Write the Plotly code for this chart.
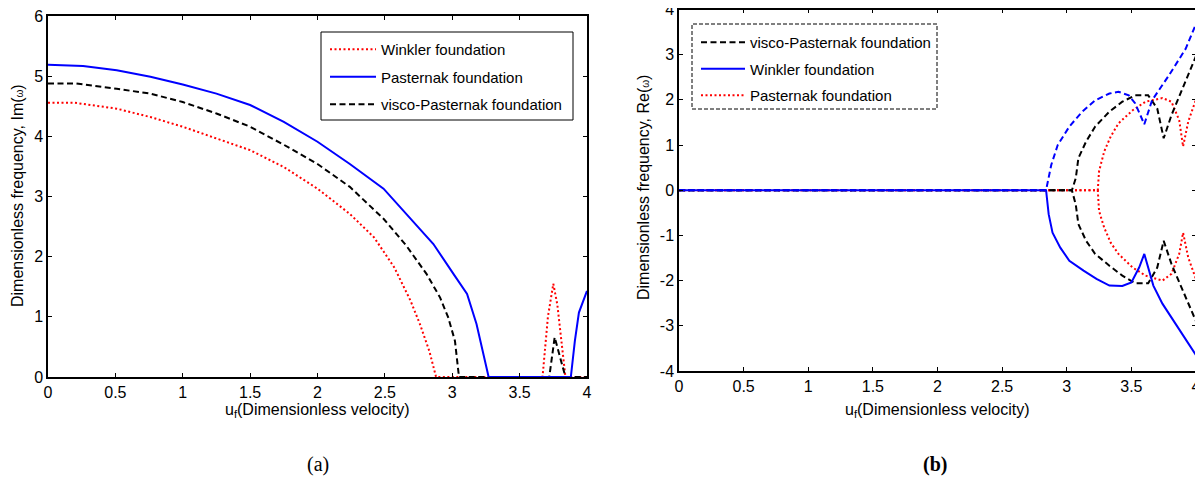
import plotly.graph_objects as go

# page body has an 8 px margin: the figure is sized so that it fills the 1203x482 window exactly
OFF = 8
W, H = 1203 - OFF, 482 - OFF

# ---------------- (a) Im(omega) ----------------
a_winkler_u = [0, 0.19, 0.51, 0.76, 1.0, 1.25, 1.5, 1.75, 2.0, 2.24, 2.42, 2.57, 2.69, 2.76, 2.83, 2.88,
               3.67, 3.71, 3.75, 3.78, 3.84, 4.0]
a_winkler_v = [4.56, 4.56, 4.46, 4.32, 4.16, 3.96, 3.77, 3.49, 3.13, 2.71, 2.32, 1.82, 1.27, 0.88, 0.43, 0,
               0, 1.0, 1.55, 1.2, 0, 0]

a_pasternak_u = [0, 0.26, 0.51, 0.76, 1.0, 1.25, 1.5, 1.75, 2.0, 2.24, 2.49, 2.66, 2.86, 3.01, 3.11, 3.18, 3.27,
                 3.88, 3.91, 3.94, 4.0]
a_pasternak_v = [5.19, 5.17, 5.10, 4.99, 4.86, 4.71, 4.52, 4.24, 3.91, 3.54, 3.13, 2.71, 2.21, 1.71, 1.38, 0.88, 0,
                 0, 0.6, 1.07, 1.43]

a_visco_u = [0, 0.21, 0.51, 0.76, 1.0, 1.25, 1.5, 1.75, 2.0, 2.24, 2.49, 2.66, 2.81, 2.91, 2.97, 3.02, 3.05,
             3.72, 3.76, 3.84, 4.0]
a_visco_v = [4.88, 4.88, 4.79, 4.71, 4.57, 4.38, 4.16, 3.86, 3.54, 3.16, 2.63, 2.18, 1.71, 1.32, 0.99, 0.60, 0,
             0, 0.66, 0, 0]

# ---------------- (b) Re(omega) ----------------
b_winkler_up_u = [0, 2.84, 2.88, 2.93, 3.02, 3.12, 3.22, 3.33, 3.40, 3.48, 3.53, 3.60, 3.66, 3.79, 3.92, 4.0]
b_winkler_up_v = [0, 0, 0.56, 1.00, 1.41, 1.74, 1.99, 2.14, 2.18, 2.10, 1.92, 1.46, 1.99, 2.54, 3.13, 3.68]
b_winkler_lo_u = [0, 2.84, 2.86, 2.89, 2.95, 3.02, 3.13, 3.23, 3.33, 3.43, 3.50, 3.56, 3.60, 3.67, 3.74, 3.84, 4.0]
b_winkler_lo_v = [0, 0, -0.53, -0.94, -1.27, -1.56, -1.78, -1.96, -2.11, -2.12, -2.04, -1.71, -1.41, -2.11,
                  -2.51, -2.95, -3.65]

b_visco_u = [0, 3.04, 3.07, 3.09, 3.15, 3.22, 3.33, 3.43, 3.53, 3.63, 3.70, 3.75, 3.81, 4.0]
b_visco_up = [0, 0, 0.27, 0.71, 1.08, 1.41, 1.74, 1.96, 2.10, 2.10, 1.81, 1.15, 1.66, 2.97]
b_visco_lo = [0, 0, -0.32, -0.75, -1.12, -1.41, -1.67, -1.89, -2.06, -2.06, -1.71, -1.12, -1.63, -2.90]

b_past_u = [0, 3.24, 3.25, 3.29, 3.34, 3.40, 3.51, 3.61, 3.74, 3.81, 3.87, 3.90, 3.94, 4.0]
b_past_up = [0, 0, 0.42, 0.86, 1.19, 1.48, 1.77, 1.96, 2.04, 1.96, 1.55, 0.97, 1.52, 2.01]
b_past_lo = [0, 0, -0.46, -0.83, -1.16, -1.41, -1.71, -1.89, -2.00, -1.85, -1.41, -0.94, -1.49, -1.97]

x_tickvals = [0, 0.5, 1, 1.5, 2, 2.5, 3, 3.5, 4]
x_ticktext = ["0", "0.5", "1", "1.5", "2", "2.5", "3", "3.5", "4"]
ya_tickvals = [0, 1, 2, 3, 4, 5, 6]
ya_ticktext = ["0", "1", "2", "3", "4", "5", "6"]
yb_tickvals = [-4, -3, -2, -1, 0, 1, 2, 3, 4]
yb_ticktext = ["-4", "-3", "-2", "-1", "0", "1", "2", "3", "4"]

RED, BLUE, BLACK = "#ff0000", "#0000ff", "#000000"
DOT, DASH = "2px,2.5px", "6px,3.5px"
LW = 2
FONT = "Arial, Liberation Sans, sans-serif"

fig = go.Figure()

# (a) legend order: Winkler, Pasternak, visco-Pasternak
fig.add_trace(go.Scatter(x=a_winkler_u, y=a_winkler_v, mode="lines", name="Winkler foundation",
                         line=dict(color=RED, width=LW, dash=DOT), xaxis="x", yaxis="y",
                         legend="legend", legendgroup="a1", legendrank=1))
fig.add_trace(go.Scatter(x=a_visco_u, y=a_visco_v, mode="lines", name="visco-Pasternak foundation",
                         line=dict(color=BLACK, width=LW, dash=DASH), xaxis="x", yaxis="y",
                         legend="legend", legendgroup="a3", legendrank=3))
fig.add_trace(go.Scatter(x=a_pasternak_u, y=a_pasternak_v, mode="lines", name="Pasternak foundation",
                         line=dict(color=BLUE, width=LW), xaxis="x", yaxis="y",
                         legend="legend", legendgroup="a2", legendrank=2))

# (b) legend order: visco-Pasternak, Winkler, Pasternak
fig.add_trace(go.Scatter(x=b_past_u, y=b_past_up, mode="lines", name="Pasternak foundation",
                         line=dict(color=RED, width=LW, dash=DOT), xaxis="x2", yaxis="y2",
                         legend="legend2", legendgroup="b3", legendrank=3))
fig.add_trace(go.Scatter(x=b_past_u, y=b_past_lo, mode="lines", showlegend=False,
                         line=dict(color=RED, width=LW, dash=DOT), xaxis="x2", yaxis="y2",
                         legend="legend2", legendgroup="b3", legendrank=3))
fig.add_trace(go.Scatter(x=b_visco_u, y=b_visco_up, mode="lines", name="visco-Pasternak foundation",
                         line=dict(color=BLACK, width=LW, dash=DASH), xaxis="x2", yaxis="y2",
                         legend="legend2", legendgroup="b1", legendrank=1))
fig.add_trace(go.Scatter(x=b_visco_u, y=b_visco_lo, mode="lines", showlegend=False,
                         line=dict(color=BLACK, width=LW, dash=DASH), xaxis="x2", yaxis="y2",
                         legend="legend2", legendgroup="b1", legendrank=1))
fig.add_trace(go.Scatter(x=b_winkler_lo_u, y=b_winkler_lo_v, mode="lines", name="Winkler foundation",
                         line=dict(color=BLUE, width=LW), xaxis="x2", yaxis="y2",
                         legend="legend2", legendgroup="b2", legendrank=2))
fig.add_trace(go.Scatter(x=b_winkler_up_u, y=b_winkler_up_v, mode="lines", showlegend=False,
                         line=dict(color=BLUE, width=LW, dash=DASH), xaxis="x2", yaxis="y2",
                         legend="legend2", legendgroup="b2", legendrank=2))


def px_x(p):
    return min(1.0, max(0.0, (p - OFF) / W))


def px_y(p):
    return min(1.0, max(0.0, 1 - (p - OFF) / H))


axis_common = dict(showgrid=False, zeroline=False, showline=True, mirror="ticks", linecolor="black",
                   linewidth=1.5, ticks="inside", ticklen=4, tickcolor="black", tickwidth=1,
                   tickfont=dict(family=FONT, size=16, color="black"), automargin=False,
                   ticklabeloverflow="allow")

fig.update_layout(
    width=W, height=H, margin=dict(l=0, r=0, t=0, b=0),
    paper_bgcolor="white", plot_bgcolor="white",
    font=dict(family=FONT, size=15, color="black"),
    xaxis=dict(domain=[px_x(48), px_x(587)], range=[0, 4], anchor="y",
               tickvals=x_tickvals, ticktext=x_ticktext, **axis_common),
    yaxis=dict(domain=[px_y(377), px_y(16)], range=[0, 6], anchor="x",
               tickvals=ya_tickvals, ticktext=ya_ticktext, **axis_common),
    xaxis2=dict(domain=[px_x(679), px_x(1196)], range=[0, 4], anchor="y2",
                tickvals=x_tickvals, ticktext=x_ticktext, **axis_common),
    yaxis2=dict(domain=[px_y(371), px_y(9.5)], range=[-4, 4], anchor="x2",
                tickvals=yb_tickvals, ticktext=yb_ticktext, **axis_common),
    legend=dict(x=px_x(325), y=px_y(33), xanchor="left", yanchor="top",
                bgcolor="rgba(0,0,0,0)", borderwidth=0, itemwidth=46,
                font=dict(family=FONT, size=15, color="black"), tracegroupgap=5,
                traceorder="grouped"),
    legend2=dict(x=px_x(696), y=px_y(26), xanchor="left", yanchor="top",
                 bgcolor="rgba(0,0,0,0)", borderwidth=0, itemwidth=44,
                 font=dict(family=FONT, size=15, color="black"), tracegroupgap=4,
                 traceorder="grouped"),
    shapes=[
        dict(type="rect", xref="paper", yref="paper",
             x0=px_x(321), x1=px_x(573), y0=px_y(120), y1=px_y(32),
             line=dict(color="black", width=1), fillcolor="white", layer="below"),
        dict(type="rect", xref="paper", yref="paper",
             x0=px_x(692), x1=px_x(937), y0=px_y(109), y1=px_y(24),
             line=dict(color="black", width=1, dash="4px,2px"), fillcolor="white", layer="below"),
    ],
    annotations=[
        dict(text="u<sub>f</sub>(Dimensionless velocity)", x=px_x(317.5), y=px_y(410), xref="paper", yref="paper",
             showarrow=False, xanchor="center", yanchor="middle", font=dict(family=FONT, size=16)),
        dict(text="u<sub>f</sub>(Dimensionless velocity)", x=px_x(937), y=px_y(410), xref="paper", yref="paper",
             showarrow=False, xanchor="center", yanchor="middle", font=dict(family=FONT, size=16)),
        dict(text="Dimensionless frequency, Im(<span style='font-size:10px'>ω</span>)", x=px_x(17), y=px_y(196),
             xref="paper", yref="paper", showarrow=False, textangle=-90, xanchor="center", yanchor="middle",
             font=dict(family=FONT, size=16)),
        dict(text="Dimensionless frequency, Re(<span style='font-size:10px'>ω</span>)", x=px_x(643), y=px_y(188),
             xref="paper", yref="paper", showarrow=False, textangle=-90, xanchor="center", yanchor="middle",
             font=dict(family=FONT, size=16)),
        dict(text="(a)", x=px_x(318), y=px_y(464), xref="paper", yref="paper", showarrow=False,
             xanchor="center", yanchor="middle", font=dict(family="Liberation Serif, Times New Roman, serif", size=20)),
        dict(text="<b>(b)</b>", x=px_x(935), y=px_y(464), xref="paper", yref="paper", showarrow=False,
             xanchor="center", yanchor="middle", font=dict(family="Liberation Serif, Times New Roman, serif", size=20)),
    ],
)

fig.write_html("out.html")
